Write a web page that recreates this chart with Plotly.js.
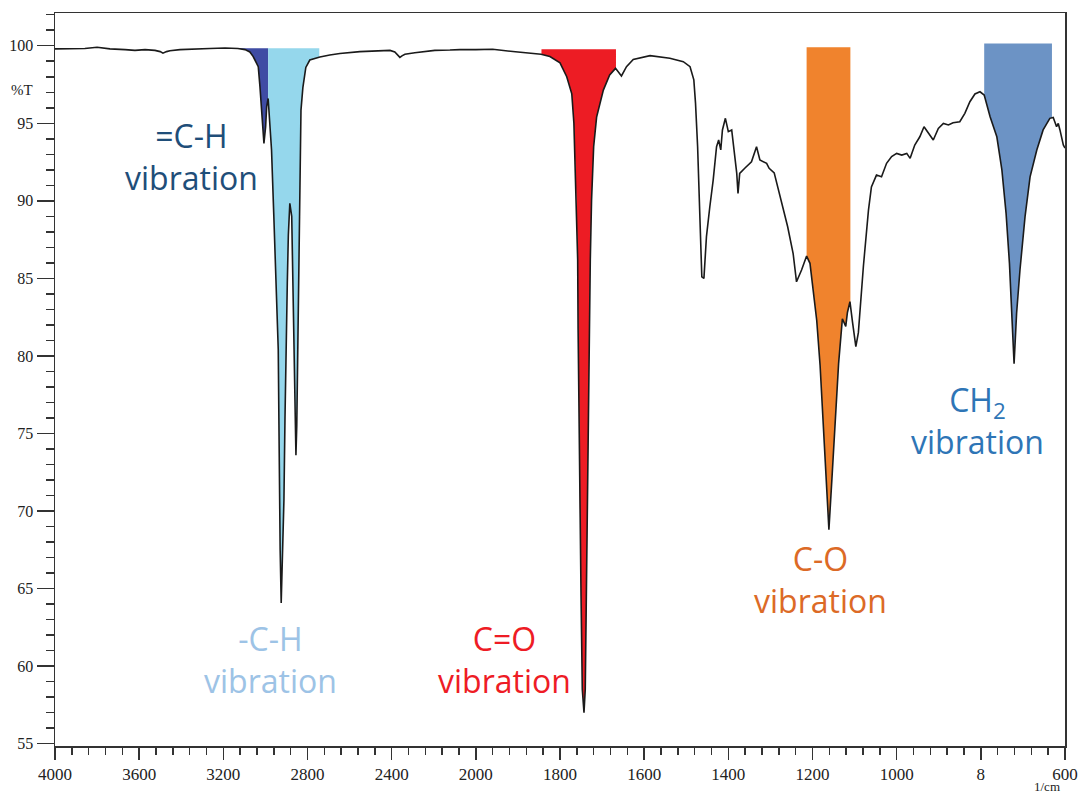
<!DOCTYPE html>
<html><head><meta charset="utf-8">
<script src="https://cdn.plot.ly/plotly-3.0.1.min.js"></script>
<style>html,body{margin:0;padding:0;background:#fff}#chart{width:1079px;height:795px}</style>
</head><body><div id="chart"></div>
<script>
// Spectrum (wavenumber in 1/cm, transmittance in %T)
const wavenumber = [
 4000,3929,3858,3800,3739,3667,3620,3572,3525,3500,3487,3470,3454,3406,3335,3264,3192,3131,
 3097,3074,3058,3045,3034,3026,3018,3010,3007,2999,2994,2987,
 2971,2960,2950,2944,2939,2936,2934,2930,2925,2919,2912,2907,2903,2896,2891,2884,
 2875,2869,2863,2858,2855,2851,2848,2844,2840,2836,2831,2822,2808,2789,2765,2741,
 2694,2646,2551,2456,2408,2385,2370,2361,2351,2337,2290,2242,2195,2123,2076,2000,
 1960,1906,1858,1845,1824,1800,1784,1772,1767,1764,1761,1758,1757,1755,1753,1750,1747,
 1743,1740,1737,1735,1733,1730,1728,1725,1720,1713,1697,1682,1668,1654,1642,1626,
 1586,1539,1507,1491,1482,1478,1473,1469,1466,1463,1458,1452,1444,1436,1428,1423,
 1418,1414,1407,1400,1392,1387,1380,1377,1373,1361,1345,1333,1325,1309,1303,1291,
 1284,1275,1259,1246,1238,1226,1214,1206,1198,1190,1182,1175,1168,1161,1154,1146,
 1138,1129,1121,1117,1111,1105,1097,1091,1079,1067,1060,1048,1036,1024,1012,1000,
 988,976,968,957,945,935,925,913,901,889,877,866,850,838,826,814,802,792,778,762,
 750,740,732,727,721,715,707,695,683,667,652,636,628,620,616,612,604,600
];
const transmittance = [
 99.80,99.80,99.82,99.90,99.80,99.75,99.70,99.75,99.70,99.62,99.52,99.62,99.68,99.75,99.80,99.82,99.85,99.82,
 99.75,99.60,99.30,98.95,98.65,97.36,95.85,94.37,93.70,94.78,96.07,96.60,
 93.30,89.00,84.70,82.00,80.40,76.00,70.70,67.50,64.07,67.50,70.70,76.00,80.40,84.70,87.80,89.84,
 89.00,84.00,78.20,75.50,73.60,75.50,79.00,83.60,89.00,93.30,95.85,97.30,98.60,99.08,99.20,99.27,
 99.40,99.50,99.62,99.65,99.70,99.60,99.40,99.25,99.35,99.45,99.55,99.65,99.70,99.72,99.75,99.75,
 99.77,99.61,99.51,99.45,99.30,98.90,98.00,96.90,95.00,92.50,90.10,86.20,81.70,76.00,70.70,64.50,58.50,
 57.00,58.50,64.50,70.70,76.00,81.70,86.20,90.05,93.50,95.40,97.14,98.11,98.54,98.05,98.65,99.12,
 99.36,99.19,98.97,98.65,97.80,96.30,93.50,90.26,87.04,85.10,85.00,87.69,89.62,91.34,93.49,93.92,
 93.28,94.57,95.32,94.46,94.57,93.49,91.77,90.48,91.77,92.10,92.52,93.49,92.63,92.42,92.10,91.80,
 91.00,90.05,88.33,86.60,84.78,85.54,86.44,85.97,84.25,82.30,79.40,76.00,72.00,68.80,72.00,76.00,
 79.50,82.40,81.90,82.80,83.50,82.20,80.60,81.50,85.80,89.40,90.90,91.66,91.55,92.42,92.85,93.06,
 92.95,93.06,92.74,93.60,94.13,94.78,94.35,93.92,94.67,94.99,94.89,95.04,95.10,95.64,96.39,96.89,97.03,96.82,95.42,94.13,
 91.99,89.19,85.97,82.75,79.50,82.75,85.54,88.97,91.55,93.28,94.57,95.32,95.38,94.78,94.99,94.57,93.60,93.40
];

// Highlighted bands
const bandNames   = ['=C-H', '-C-H', 'C=O', 'C-O', 'CH<sub>2</sub>'];
const bandStart   = [3132, 2987, 1844, 1214, 792];
const bandEnd     = [2987, 2744, 1667, 1110, 631];
const bandTop     = [99.83, 99.83, 99.77, 99.90, 100.15];
const bandFill    = ['#3F4CA4', '#95D7EC', '#ED1C24', '#F0832D', '#6C93C5'];
const labelColor  = ['#1F4E79', '#9DC3E6', '#EE1C25', '#DC6A26', '#2E75B6'];

// Axis ticks
const xTickValues = [4000,3600,3200,2800,2400,2000,1800,1600,1400,1200,1000,800,600];
const xTickText   = ['4000','3600','3200','2800','2400','2000','1800','1600','1400','1200','1000','8','600'];

// IR convention: scale above 2000 1/cm is compressed by a factor of two
function axisPos(wn){ return wn <= 2000 ? wn : 2000 + (wn - 2000) / 2; }

function interpT(w){
  for (let i = 0; i < wavenumber.length - 1; i++){
    const a = wavenumber[i], b = wavenumber[i+1];
    if (w <= a && w >= b){
      const f = (a - w) / (a - b);
      return transmittance[i] + f * (transmittance[i+1] - transmittance[i]);
    }
  }
  return transmittance[transmittance.length - 1];
}

const traces = [];
for (let k = 0; k < bandNames.length; k++){
  const s = bandStart[k], e = bandEnd[k];
  const xs = [s], ys = [interpT(s)];
  for (let i = 0; i < wavenumber.length; i++){
    if (wavenumber[i] < s && wavenumber[i] > e){ xs.push(wavenumber[i]); ys.push(transmittance[i]); }
  }
  xs.push(e); ys.push(interpT(e));
  xs.push(e); ys.push(bandTop[k]);
  xs.push(s); ys.push(bandTop[k]);
  traces.push({
    type:'scatter', mode:'lines', x: xs.map(axisPos), y: ys,
    fill:'toself', fillcolor: bandFill[k], line:{width:0, color: bandFill[k]},
    hoverinfo:'skip', showlegend:false
  });
}
traces.push({
  type:'scatter', mode:'lines', x: wavenumber.map(axisPos), y: transmittance,
  line:{color:'#1a1a1a', width:1.6}, hoverinfo:'x+y', showlegend:false
});

// minor ticks every 40 axis units (80 1/cm above 2000, 40 1/cm below)
const minorX = [];
for (let u = 600; u <= 3000; u += 40) minorX.push(u);

const L = 55, R = 1065, T = 13, B = 746;
function px(x){ return (x - L) / (R - L); }
function py(y){ return (B - y) / (B - T); }
const labelFont = 'Open Sans, Noto Sans, sans-serif';
// centre of each two-line label, in picture pixels
const labelPos = [[191,157],[270,659],[504,659],[820,579],[977,420]];
const annotations = [];
for (let k = 0; k < bandNames.length; k++){
  annotations.push({xref:'paper', yref:'paper', x: px(labelPos[k][0]), y: py(labelPos[k][1]),
    xanchor:'center', yanchor:'middle', align:'center', showarrow:false,
    text: bandNames[k] + '<br>vibration',
    font:{family: labelFont, size:32, color: labelColor[k]}});
}
annotations.push({xref:'paper', yref:'paper', x: px(22), y: py(90), xanchor:'center', yanchor:'middle',
  text:'%T', showarrow:false, font:{family:'Liberation Serif, serif', size:15, color:'#222'}});
annotations.push({xref:'paper', yref:'paper', x: px(1047), y: py(795), xanchor:'center', yanchor:'bottom',
  borderpad:0, text:'1/cm', showarrow:false, font:{family:'Liberation Serif, serif', size:13, color:'#222'}});

const axisCommon = {
  showgrid:false, zeroline:false, showline:true, linecolor:'#333', linewidth:1.5, mirror:true,
  ticks:'outside', tickcolor:'#333', tickwidth:1.5,
  tickfont:{family:'Liberation Serif, serif', size:17, color:'#222'}
};
const layout = {
  width:1079, height:795,
  margin:{l:L, r:1079-R, t:T, b:795-B, pad:0},
  paper_bgcolor:'#ffffff', plot_bgcolor:'#ffffff', showlegend:false,
  font:{family:'Liberation Serif, serif'},
  xaxis: Object.assign({}, axisCommon, {
    range:[axisPos(4000), axisPos(600)], tickmode:'array',
    tickvals: xTickValues.map(axisPos), ticktext: xTickText, ticklen:12,
    minor:{tickmode:'array', tickvals: minorX, ticks:'outside', ticklen:7, tickwidth:1.5, tickcolor:'#333', showgrid:false}
  }),
  yaxis: Object.assign({}, axisCommon, {
    range:[54.85, 102.11], tickmode:'linear', tick0:55, dtick:5, ticklen:17,
    tickfont:{family:'Liberation Serif, serif', size:16, color:'#222'},
    minor:{tickmode:'linear', tick0:55, dtick:1, ticks:'outside', ticklen:8, tickwidth:1.5, tickcolor:'#333', showgrid:false}
  }),
  annotations: annotations
};
Plotly.newPlot('chart', traces, layout, {displayModeBar:false, staticPlot:true});
</script>
</body></html>
